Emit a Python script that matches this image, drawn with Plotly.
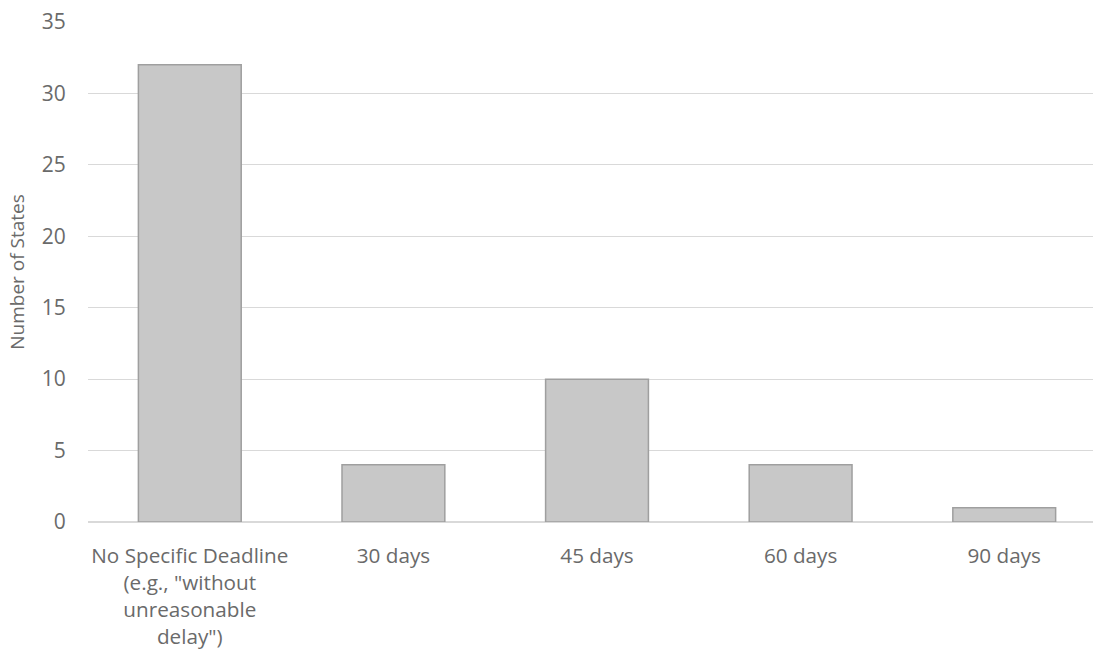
import plotly.graph_objects as go

categories = ['No Specific Deadline<br>(e.g., "without<br>unreasonable<br>delay")',
              "30 days", "45 days", "60 days", "90 days"]
values = [32, 4, 10, 4, 1]
y_ticks = [0, 5, 10, 15, 20, 25, 30, 35]

fig = go.Figure()
fig.add_trace(go.Bar(
    x=categories, y=values, width=0.505,
    marker=dict(color="#c8c8c8", line=dict(color="#9f9f9f", width=1.5)),
))

font = "Open Sans, Segoe UI, sans-serif"
txt = "#6a6a6a"
fig.update_layout(
    width=1093, height=651,
    margin=dict(l=88, r=0, t=22, b=129),
    plot_bgcolor="white", paper_bgcolor="white",
    showlegend=False,
    font=dict(family=font, size=21, color=txt),
    xaxis=dict(range=[-0.5, 4.436], showgrid=False, showline=False,
               ticks="outside", ticklen=15, tickcolor="rgba(0,0,0,0)",
               tickfont=dict(size=20.7, color=txt)),
    yaxis=dict(range=[0, 35], tickvals=y_ticks, showgrid=True,
               gridcolor="#d9d9d9", gridwidth=1, zeroline=True,
               zerolinecolor="#d9d9d9", zerolinewidth=1.5,
               ticks="outside", ticklen=17, tickcolor="rgba(0,0,0,0)",
               tickfont=dict(size=21, color=txt),
               title=dict(text="Number of States", font=dict(size=19, color=txt),
                          standoff=12)),
)
fig.write_html("out.html", config={"displayModeBar": False},
               post_script="document.body.style.margin='0';document.body.style.overflow='hidden';")
